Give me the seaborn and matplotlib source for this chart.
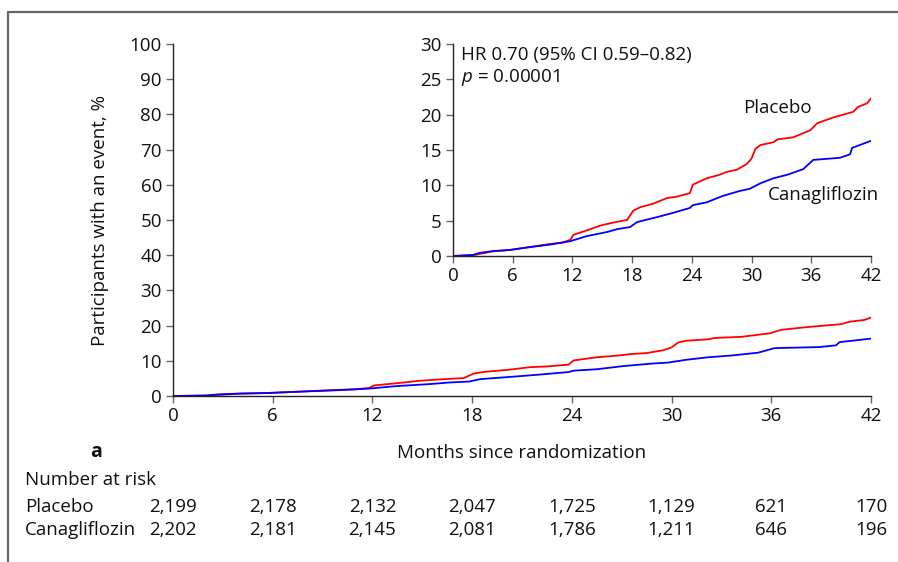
import numpy as np
import pandas as pd
import matplotlib.pyplot as plt
import matplotlib.transforms as mtransforms
from matplotlib.lines import Line2D
import seaborn as sns

# curve data (cumulative % with an event)
placebo_months = [0, 2, 2.7, 4, 5.7, 7.4, 9.7, 11, 11.8, 12.1, 13.4, 14.8, 16, 17.5, 18.1,
                  18.8, 20.1, 21.5, 22.5, 23.8, 24.1, 25.5, 26.8, 27.5, 28.5, 29.5, 30.0,
                  30.4, 30.9, 32.2, 32.6, 34.2, 35.9, 36.6, 38.2, 40.2, 40.7, 41.6, 42]
placebo_pct = [0, 0.1, 0.3, 0.65, 0.85, 1.2, 1.7, 1.9, 2.3, 3.0, 3.6, 4.3, 4.7, 5.1, 6.4,
               6.9, 7.4, 8.2, 8.4, 8.9, 10.1, 11.0, 11.5, 11.9, 12.2, 13.0, 13.8,
               15.2, 15.7, 16.1, 16.5, 16.8, 17.8, 18.8, 19.6, 20.4, 21.1, 21.6, 22.3]

cana_months = [0, 2, 2.7, 4, 5.7, 7.4, 9.7, 11.8, 13.4, 15.5, 16.5, 17.8, 18.5, 20.5, 22.1,
               23.8, 24.1, 25.5, 27.1, 28.8, 29.8, 30.9, 32.2, 33.6, 35.2, 36.2, 38.9,
               39.9, 40.1, 42]
cana_pct = [0, 0.15, 0.45, 0.7, 0.85, 1.2, 1.6, 2.1, 2.8, 3.4, 3.8, 4.1, 4.8, 5.5, 6.1,
            6.8, 7.2, 7.6, 8.5, 9.2, 9.5, 10.3, 11.0, 11.5, 12.3, 13.6, 13.9,
            14.4, 15.3, 16.3]

risk_months = [0, 6, 12, 18, 24, 30, 36, 42]
risk_placebo = ['2,199', '2,178', '2,132', '2,047', '1,725', '1,129', '621', '170']
risk_cana = ['2,202', '2,181', '2,145', '2,081', '1,786', '1,211', '646', '196']

df = pd.concat([
    pd.DataFrame({'month': placebo_months, 'pct': placebo_pct, 'arm': 'Placebo'}),
    pd.DataFrame({'month': cana_months, 'pct': cana_pct, 'arm': 'Canagliflozin'}),
])
colors = {'Placebo': '#ff0000', 'Canagliflozin': '#0000ff'}

sns.set_style('ticks')
plt.rcParams['font.family'] = ['Open Sans', 'DejaVu Sans']
plt.rcParams['mathtext.fontset'] = 'custom'
plt.rcParams['mathtext.it'] = 'Open Sans:italic'
plt.rcParams['mathtext.rm'] = 'Open Sans'
FS = 13.5

W, H = 898, 562
fig = plt.figure(figsize=(W / 100, H / 100), dpi=100)

def box(x0, y0, x1, y1):
    return [x0 / W, 1 - y1 / H, (x1 - x0) / W, (y1 - y0) / H]

ax = fig.add_axes(box(173, 44, 871, 396))
ins = fig.add_axes(box(453, 44, 871, 256))

for a, ymax, step in [(ax, 100, 10), (ins, 30, 5)]:
    sns.lineplot(data=df, x='month', y='pct', hue='arm', palette=colors,
                 linewidth=1.3, legend=False, ax=a, estimator=None, sort=False)
    a.set_xlim(0, 42)
    a.set_ylim(0, ymax)
    a.set_xticks(np.arange(0, 43, 6))
    a.set_yticks(np.arange(0, ymax + 1, step))
    a.set_xlabel('')
    a.set_ylabel('')
    a.spines['top'].set_visible(False)
    a.spines['right'].set_visible(False)
    for s in ['left', 'bottom']:
        a.spines[s].set_color('#222222')
        a.spines[s].set_linewidth(1.0)
    a.tick_params(length=5, width=1, color='#666666', labelsize=FS, pad=3,
                  labelcolor='#111111')
    a.patch.set_alpha(0)

ins.text(0.02, 0.95, 'HR 0.70 (95% CI 0.59\u20130.82)', transform=ins.transAxes,
         fontsize=FS, va='center', ha='left', color='#111111')
ins.text(0.02, 0.84, r'$p$ = 0.00001', transform=ins.transAxes,
         fontsize=FS, va='center', ha='left', color='#111111')
ins.text(29.15, 20.9, 'Placebo', fontsize=FS, va='center', ha='left', color='#111111')
ins.text(31.6, 8.6, 'Canagliflozin', fontsize=FS, va='center', ha='left', color='#111111')

fig.text(522 / W, 1 - 453 / H, 'Months since randomization', ha='center', va='center',
         fontsize=FS, color='#111111')
fig.text(100 / W, 1 - 220 / H, 'Participants with an event, %', ha='center', va='center',
         rotation=90, fontsize=FS, color='#111111')
fig.text(96 / W, 1 - 452 / H, 'a', ha='center', va='center', fontsize=FS + 0.5,
         fontweight='bold', color='#111111')
fig.text(25 / W, 1 - 480 / H, 'Number at risk', ha='left', va='center', fontsize=FS,
         color='#111111')

trans = mtransforms.blended_transform_factory(ax.transData, fig.transFigure)
for label, vals, ypx in [('Placebo', risk_placebo, 507), ('Canagliflozin', risk_cana, 530)]:
    fig.text(25 / W, 1 - ypx / H, label, ha='left', va='center', fontsize=FS,
             color='#111111')
    for m, v in zip(risk_months, vals):
        ax.text(m, 1 - ypx / H, v, transform=trans, ha='center', va='center',
                fontsize=FS, color='#111111')

# grey frame along top and left
fig.add_artist(Line2D([7.5 / W, 1], [1 - 11.5 / H, 1 - 11.5 / H], transform=fig.transFigure,
                      color='#666666', linewidth=1.6))
fig.add_artist(Line2D([7.5 / W, 7.5 / W], [0, 1 - 11.5 / H], transform=fig.transFigure,
                      color='#666666', linewidth=1.6))

fig.savefig('out.png', dpi=100)
